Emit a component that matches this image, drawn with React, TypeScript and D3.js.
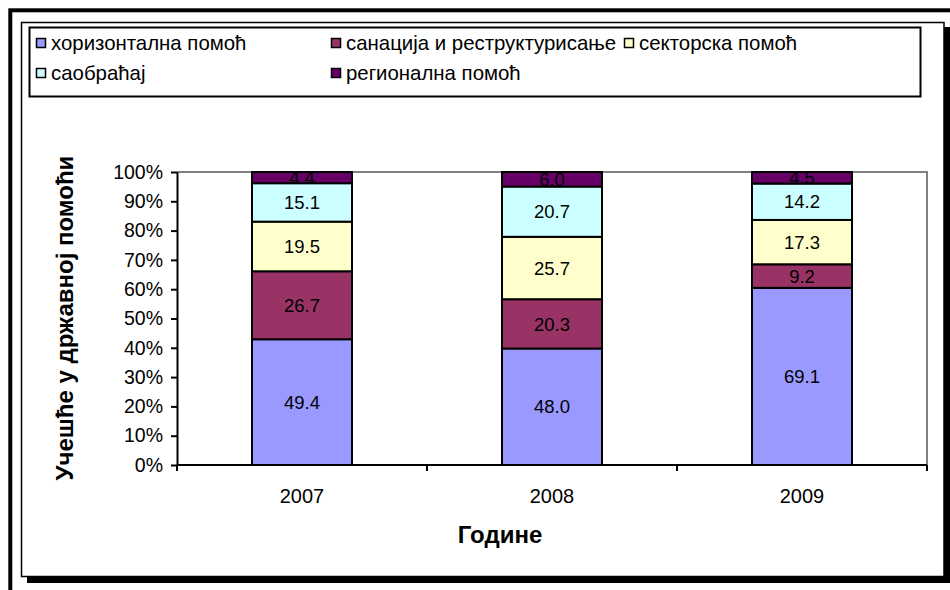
import * as d3 from "d3";
import { useEffect, useRef } from "react";

// years on the x axis
const years = ["2007", "2008", "2009"];
// series, bottom to top of each column
const seriesNames = [
  "хоризонтална помоћ",
  "санација и реструктурисање",
  "секторска помоћ",
  "саобраћај",
  "регионална помоћ",
];
const seriesColors = ["#9999FF", "#993366", "#FFFFCC", "#CCFFFF", "#660066"];
const horizontalAid = [49.4, 48.0, 69.1];
const restructuring = [26.7, 20.3, 9.2];
const sectoralAid = [19.5, 25.7, 17.3];
const transport = [15.1, 20.7, 14.2];
const regionalAid = [4.4, 6.0, 4.5];
const yTicks = [0, 0.1, 0.2, 0.3, 0.4, 0.5, 0.6, 0.7, 0.8, 0.9, 1];

const FONT = "'Liberation Sans', Arial, sans-serif";

export default function App() {
  const svgRef = useRef<SVGSVGElement>(null);

  useEffect(() => {
    const svg = d3.select(svgRef.current);
    svg.selectAll("*").remove();

    const W = 950;
    const H = 590;
    const plot = { left: 177, right: 927, top: 172, bottom: 465 };

    // outer frame
    svg
      .append("rect")
      .attr("x", 10.3)
      .attr("y", 10.3)
      .attr("width", W + 20)
      .attr("height", H + 20)
      .attr("fill", "none")
      .attr("stroke", "#000")
      .attr("stroke-width", 4);

    // chart area shadow + border
    svg
      .append("rect")
      .attr("x", 27)
      .attr("y", 27)
      .attr("width", 923)
      .attr("height", 556)
      .attr("fill", "#000");
    svg
      .append("rect")
      .attr("x", 21.5)
      .attr("y", 22.5)
      .attr("width", 922.5)
      .attr("height", 554)
      .attr("fill", "#fff")
      .attr("stroke", "#000")
      .attr("stroke-width", 1.5);

    // legend
    const legend = svg.append("g");
    legend
      .append("rect")
      .attr("x", 29.5)
      .attr("y", 27.5)
      .attr("width", 891)
      .attr("height", 69)
      .attr("fill", "#fff")
      .attr("stroke", "#000")
      .attr("stroke-width", 2);
    const legendPos = [
      [36, 38],
      [331, 38],
      [624, 38],
      [36, 68],
      [331, 68],
    ];
    seriesNames.forEach((name, i) => {
      const [lx, ly] = legendPos[i];
      legend
        .append("rect")
        .attr("x", lx + 0.5)
        .attr("y", ly + 0.5)
        .attr("width", 9)
        .attr("height", 9)
        .attr("fill", seriesColors[i])
        .attr("stroke", "#000")
        .attr("stroke-width", 1.5);
      legend
        .append("text")
        .attr("x", lx + 15)
        .attr("y", ly + 12)
        .attr("font-family", FONT)
        .attr("font-size", 20.4)
        .attr("fill", "#000")
        .text(name);
    });

    const x = d3
      .scaleBand()
      .domain(years)
      .range([plot.left, plot.right])
      .paddingInner(0.6)
      .paddingOuter(0.3);
    const y = d3.scaleLinear().domain([0, 1]).range([plot.bottom, plot.top]);

    // plot border (top / right)
    svg
      .append("path")
      .attr("d", `M${plot.left},${plot.top}H${plot.right}V${plot.bottom}`)
      .attr("fill", "none")
      .attr("stroke", "#808080")
      .attr("stroke-width", 2);

    // stacked, normalised to 100%
    const table = years.map((yr, i) => ({
      year: yr,
      s0: horizontalAid[i],
      s1: restructuring[i],
      s2: sectoralAid[i],
      s3: transport[i],
      s4: regionalAid[i],
    }));
    const keys = ["s0", "s1", "s2", "s3", "s4"];
    const stacked = d3
      .stack<any>()
      .keys(keys)
      .offset(d3.stackOffsetExpand)(table);

    const g = svg.append("g");
    stacked.forEach((layer, li) => {
      g.selectAll(null)
        .data(layer)
        .join("rect")
        .attr("x", (d: any) => x(d.data.year)!)
        .attr("y", (d) => y(d[1]))
        .attr("width", x.bandwidth())
        .attr("height", (d) => y(d[0]) - y(d[1]))
        .attr("fill", seriesColors[li])
        .attr("stroke", "#000")
        .attr("stroke-width", 2);
    });
    stacked.forEach((layer) => {
      g.selectAll(null)
        .data(layer)
        .join("text")
        .attr("x", (d: any) => x(d.data.year)! + x.bandwidth() / 2)
        .attr("y", (d) => (y(d[0]) + y(d[1])) / 2)
        .attr("dy", "0.36em")
        .attr("text-anchor", "middle")
        .attr("font-family", FONT)
        .attr("font-size", 18.5)
        .attr("fill", "#000")
        .text((d: any) => d.data[layer.key].toFixed(1));
    });

    // y axis
    const yAxis = svg
      .append("g")
      .attr("transform", `translate(${plot.left},0)`)
      .call(
        d3
          .axisLeft(y)
          .tickValues(yTicks)
          .tickFormat(d3.format(".0%"))
          .tickSize(6)
          .tickSizeOuter(0)
          .tickPadding(8)
      );
    yAxis.select(".domain").attr("stroke", "#000").attr("stroke-width", 2);
    yAxis.selectAll("line").attr("stroke", "#000").attr("stroke-width", 2);
    yAxis
      .selectAll("text")
      .attr("font-family", FONT)
      .attr("font-size", 19.5)
      .attr("fill", "#000");

    // x axis
    const xAxis = svg
      .append("g")
      .attr("transform", `translate(0,${plot.bottom})`)
      .call(d3.axisBottom(x).tickSize(0).tickPadding(24));
    xAxis.select(".domain").remove();
    xAxis
      .selectAll("text")
      .attr("font-family", FONT)
      .attr("font-size", 20)
      .attr("fill", "#000");
    xAxis
      .append("line")
      .attr("x1", plot.left)
      .attr("x2", plot.right)
      .attr("stroke", "#000")
      .attr("stroke-width", 2);
    const bounds = [plot.left, ...years.map((yr) => x(yr)! + x.step() * 0.7)];
    xAxis
      .selectAll(".sep")
      .data(bounds)
      .join("line")
      .attr("x1", (d) => d)
      .attr("x2", (d) => d)
      .attr("y1", 0)
      .attr("y2", 6)
      .attr("stroke", "#000")
      .attr("stroke-width", 2);

    // titles
    svg
      .append("text")
      .attr("x", 500)
      .attr("y", 543)
      .attr("text-anchor", "middle")
      .attr("font-family", FONT)
      .attr("font-weight", "bold")
      .attr("font-size", 24)
      .text("Године");
    svg
      .append("text")
      .attr("transform", `translate(73,318) rotate(-90)`)
      .attr("text-anchor", "middle")
      .attr("font-family", FONT)
      .attr("font-weight", "bold")
      .attr("font-size", 24)
      .text("Учешће у државној помоћи");
  }, []);

  return (
    <svg
      ref={svgRef}
      width={950}
      height={590}
      style={{ position: "absolute", left: 0, top: 0, background: "#fff" }}
    ></svg>
  );
}
